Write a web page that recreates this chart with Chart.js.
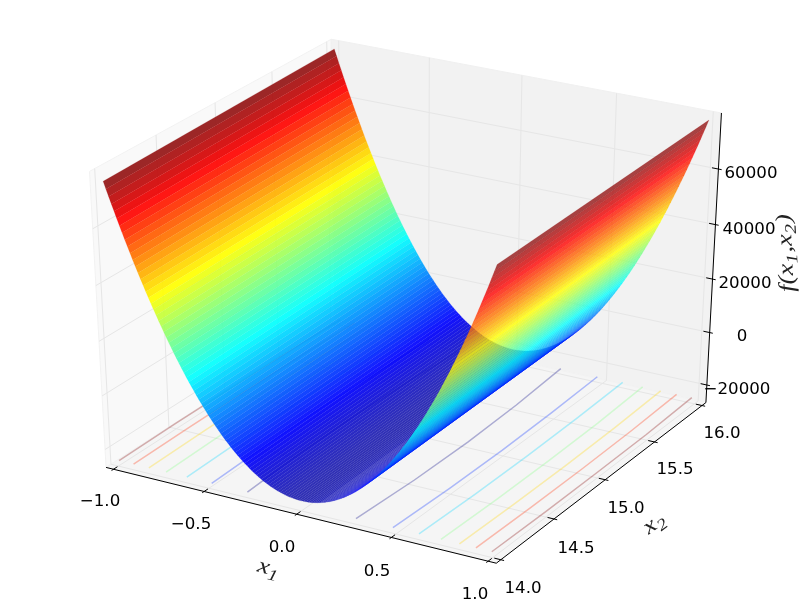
<!DOCTYPE html>
<html>
<head>
<meta charset="utf-8">
<title>f(x1,x2) surface</title>
<style>
  html, body { margin: 0; padding: 0; background: #fff; }
  canvas { display: block; }
</style>
<script src="https://cdn.jsdelivr.net/npm/chart.js@4/dist/chart.umd.min.js"></script>
</head>
<body>
<canvas id="chart" width="800" height="600"></canvas>
<script>
// values
const x1Grid = [-1,-0.9875,-0.975,-0.9625,-0.95,-0.9375,-0.925,-0.9125,-0.9,-0.8875,-0.875,-0.8625,-0.85,-0.8375,-0.825,-0.8125,-0.8,-0.7875,-0.775,-0.7625,-0.75,-0.7375,-0.725,-0.7125,-0.7,-0.6875,-0.675,-0.6625,-0.65,-0.6375,-0.625,-0.6125,-0.6,-0.5875,-0.575,-0.5625,-0.55,-0.5375,-0.525,-0.5125,-0.5,-0.4875,-0.475,-0.4625,-0.45,-0.4375,-0.425,-0.4125,-0.4,-0.3875,-0.375,-0.3625,-0.35,-0.3375,-0.325,-0.3125,-0.3,-0.2875,-0.275,-0.2625,-0.25,-0.2375,-0.225,-0.2125,-0.2,-0.1875,-0.175,-0.1625,-0.15,-0.1375,-0.125,-0.1125,-0.1,-0.0875,-0.075,-0.0625,-0.05,-0.0375,-0.025,-0.0125,0,0.0125,0.025,0.0375,0.05,0.0625,0.075,0.0875,0.1,0.1125,0.125,0.1375,0.15,0.1625,0.175,0.1875,0.2,0.2125,0.225,0.2375,0.25,0.2625,0.275,0.2875,0.3,0.3125,0.325,0.3375,0.35,0.3625,0.375,0.3875,0.4,0.4125,0.425,0.4375,0.45,0.4625,0.475,0.4875,0.5,0.5125,0.525,0.5375,0.55,0.5625,0.575,0.5875,0.6,0.6125,0.625,0.6375,0.65,0.6625,0.675,0.6875,0.7,0.7125,0.725,0.7375,0.75,0.7625,0.775,0.7875,0.8,0.8125,0.825,0.8375,0.85,0.8625,0.875,0.8875,0.9,0.9125,0.925,0.9375,0.95,0.9625,0.975,0.9875,1];
const zAtX2Low = [76000,73540,71110,68710,66350,64010,61710,59430,57190,54980,52800,50650,48530,46440,44380,42360,40360,38400,36460,34560,32690,30850,29040,27260,25510,23790,22110,20450,18830,17230,15670,14140,12640,11170,9730,8320,6950,5600,4290,3000,1750,530,-660,-1820,-2950,-4050,-5120,-6160,-7160,-8130,-9080,-9990,-10870,-11720,-12540,-13330,-14090,-14820,-15510,-16180,-16810,-17420,-17990,-18530,-19040,-19520,-19970,-20390,-20770,-21130,-21450,-21750,-22010,-22240,-22440,-22610,-22750,-22860,-22940,-22980,-23000,-22980,-22940,-22860,-22750,-22610,-22440,-22240,-22010,-21750,-21450,-21130,-20770,-20390,-19970,-19520,-19040,-18530,-17990,-17420,-16810,-16180,-15510,-14820,-14090,-13330,-12540,-11720,-10870,-9990,-9080,-8130,-7160,-6160,-5120,-4050,-2950,-1820,-660,530,1750,3000,4290,5600,6950,8320,9730,11170,12640,14140,15670,17230,18830,20450,22110,23790,25510,27260,29040,30850,32690,34560,36460,38400,40360,42360,44380,46440,48530,50650,52800,54980,57190,59430,61710,64010,66350,68710,71110,73540,76000];
const zAtX2High = [77700,75240,72810,70410,68050,65710,63410,61130,58890,56680,54500,52350,50230,48140,46080,44060,42060,40100,38160,36260,34390,32550,30740,28960,27210,25490,23810,22150,20530,18930,17370,15840,14340,12870,11430,10020,8650,7300,5990,4700,3450,2230,1040,-120,-1250,-2350,-3420,-4460,-5460,-6430,-7380,-8290,-9170,-10020,-10840,-11630,-12390,-13120,-13810,-14480,-15110,-15720,-16290,-16830,-17340,-17820,-18270,-18690,-19070,-19430,-19750,-20050,-20310,-20540,-20740,-20910,-21050,-21160,-21240,-21280,-21300,-21280,-21240,-21160,-21050,-20910,-20740,-20540,-20310,-20050,-19750,-19430,-19070,-18690,-18270,-17820,-17340,-16830,-16290,-15720,-15110,-14480,-13810,-13120,-12390,-11630,-10840,-10020,-9170,-8290,-7380,-6430,-5460,-4460,-3420,-2350,-1250,-120,1040,2230,3450,4700,5990,7300,8650,10020,11430,12870,14340,15840,17370,18930,20530,22150,23810,25490,27210,28960,30740,32550,34390,36260,38160,40100,42060,44060,46080,48140,50230,52350,54500,56680,58890,61130,63410,65710,68050,70410,72810,75240,77700];
const surfaceX2 = [14, 16];

// contours on the floor: |x1| of each level at each x2 stop
const contourX2 = [14, 14.5, 15, 15.5, 16];
const contourLevels = [-15000, 0, 15000, 30000, 45000, 60000, 75000];
const contourM15000 = [0.29, 0.308, 0.31, 0.296, 0.269];
const contour0 = [0.484, 0.495, 0.496, 0.487, 0.471];
const contour15000 = [0.62, 0.6285, 0.6293, 0.6224, 0.61];
const contour30000 = [0.734, 0.7412, 0.7419, 0.736, 0.719];
const contour45000 = [0.829, 0.8353, 0.836, 0.8308, 0.817];
const contour60000 = [0.914, 0.9198, 0.9203, 0.9156, 0.903];
const contour75000 = [0.995, 1, 1, 0.997, 0.985];
const contourLines = [contourM15000, contour0, contour15000, contour30000, contour45000, contour60000, contour75000];

const x1Ticks = [-1, -0.5, 0, 0.5, 1];
const x2Ticks = [14, 14.5, 15, 15.5, 16];
const zTicks = [-20000, 0, 20000, 40000, 60000];
const x1TickLabels = ["\u22121.0", "\u22120.5", "0.0", "0.5", "1.0"];
const x2TickLabels = ["14.0", "14.5", "15.0", "15.5", "16.0"];
const zTickLabels = ["\u221220000", "0", "20000", "40000", "60000"];

const x1Lim = [-1, 1];
const x2Lim = [14, 16];
const zLim = [-24640, 77660];
const colorLim = [-26000, 76850];

// same camera as mplot3d elev=30 azim=-60 dist=10
const U = [0.8660254, 0.5, 0];
const V = [-0.25, 0.4330127, 0.8660254];
const N = [0.4330127, -0.75, 0.5];
const dot = (a, b) => a[0] * b[0] + a[1] * b[1] + a[2] * b[2];
const PAD = 1 / 48;

function projectUnit(u, v, w) {
  const d = [u - 0.5, v - 0.5, w - 0.5];
  const den = 10 - dot(N, d);
  return {
    x: (dot(U, d) / den + 0.095) / 0.185 * 800,
    y: (0.09 - dot(V, d) / den) / 0.185 * 600
  };
}
const ux = (x) => (x - x1Lim[0]) / (x1Lim[1] - x1Lim[0]);
const uy = (y) => (y - x2Lim[0]) / (x2Lim[1] - x2Lim[0]);
const uz = (z) => (z - zLim[0]) / (zLim[1] - zLim[0]);
const project = (x, y, z) => projectUnit(ux(x), uy(y), uz(z));

function jet(t) {
  const c = (v) => Math.round(255 * Math.max(0, Math.min(1, v)));
  return [c(1.5 - Math.abs(4 * t - 3)), c(1.5 - Math.abs(4 * t - 2)), c(1.5 - Math.abs(4 * t - 1))];
}
const rgba = (c, a) => `rgba(${c[0]},${c[1]},${c[2]},${a})`;

// the dark ends of the map look a bit washed out in the reference
function surfaceColor(t) {
  const m = t < 0.12 ? 0.2 * (1 - t / 0.12) : t > 0.9 ? 0.1 * (t - 0.9) / 0.1 : 0;
  return jet(t).map((v) => Math.round(v + (235 - v) * m));
}

function polyLine(points, color, width) {
  return { data: points, showLine: true, fill: false, pointRadius: 0, borderColor: color, borderWidth: width, tension: 0 };
}
function polygon(points, fillColor, edgeColor, edgeWidth) {
  const closed = points.concat([points[0]]);
  return { data: closed, showLine: true, fill: "shape", pointRadius: 0, backgroundColor: fillColor, borderColor: edgeColor, borderWidth: edgeWidth, tension: 0 };
}

const lo = -PAD, hi = 1 + PAD;
const painted = [];

// panes
painted.push(polygon([projectUnit(lo, lo, lo), projectUnit(lo, hi, lo), projectUnit(lo, hi, hi), projectUnit(lo, lo, hi)], "#f9f9f9", "#f2f2f2", 1));
painted.push(polygon([projectUnit(lo, hi, lo), projectUnit(hi, hi, lo), projectUnit(hi, hi, hi), projectUnit(lo, hi, hi)], "#f2f2f2", "#f0f0f0", 1));
painted.push(polygon([projectUnit(lo, lo, lo), projectUnit(hi, lo, lo), projectUnit(hi, hi, lo), projectUnit(lo, hi, lo)], "#f5f5f5", "#f2f2f2", 1));

// grid
const GRID = "#e6e6e6";
x1Ticks.forEach((t) => painted.push(polyLine([projectUnit(ux(t), lo, lo), projectUnit(ux(t), hi, lo), projectUnit(ux(t), hi, hi)], GRID, 1)));
x2Ticks.forEach((t) => painted.push(polyLine([projectUnit(hi, uy(t), lo), projectUnit(lo, uy(t), lo), projectUnit(lo, uy(t), hi)], GRID, 1)));
zTicks.forEach((t) => painted.push(polyLine([projectUnit(lo, lo, uz(t)), projectUnit(lo, hi, uz(t)), projectUnit(hi, hi, uz(t))], GRID, 1)));

// axis lines and ticks
painted.push(polyLine([projectUnit(lo, lo, lo), projectUnit(hi, lo, lo)], "#000", 1));
painted.push(polyLine([projectUnit(hi, lo, lo), projectUnit(hi, hi, lo)], "#000", 1));
painted.push(polyLine([projectUnit(hi, hi, lo), projectUnit(hi, hi, hi)], "#000", 1));
const OUT = 0.1 / 12, IN = 0.2 / 12;
x1Ticks.forEach((t) => painted.push(polyLine([projectUnit(ux(t), lo - OUT, lo), projectUnit(ux(t), lo + IN, lo)], "#000", 1)));
x2Ticks.forEach((t) => painted.push(polyLine([projectUnit(hi + OUT, uy(t), lo), projectUnit(hi - IN, uy(t), lo)], "#000", 1)));
zTicks.forEach((t) => painted.push(polyLine([projectUnit(hi + OUT, hi, uz(t)), projectUnit(hi - IN, hi, uz(t))], "#000", 1)));

// contours, both sides of the trough
contourLevels.forEach((level, i) => {
  const color = rgba(jet((level - contourLevels[0]) / (contourLevels[contourLevels.length - 1] - contourLevels[0])), 0.3);
  [-1, 1].forEach((side) => {
    const pts = contourLines[i].map((x, j) => project(side * x, contourX2[j], zLim[0]));
    painted.push(polyLine(pts, color, 1.5));
  });
});

// surface, far to near
for (let i = 0; i < x1Grid.length - 1; i++) {
  const a = zAtX2Low[i], b = zAtX2Low[i + 1], c = zAtX2High[i + 1], d = zAtX2High[i];
  const col = surfaceColor(((a + b + c + d) / 4 - colorLim[0]) / (colorLim[1] - colorLim[0]));
  const alpha = x1Grid[i] < 0.1 ? 0.92 : 0.8;
  painted.push(polygon([
    project(x1Grid[i], surfaceX2[0], a),
    project(x1Grid[i + 1], surfaceX2[0], b),
    project(x1Grid[i + 1], surfaceX2[1], c),
    project(x1Grid[i], surfaceX2[1], d)
  ], rgba(col, alpha), rgba(col, 0.3), 0.5));
}

// chart.js paints the last dataset first
const datasets = painted.reverse();

const TICK_FONT = '16.67px "DejaVu Sans"';
const MATH_FONT = 'italic 22px "Liberation Serif"';
const MATH_SUB = 'italic 16px "Liberation Serif"';
const x1LabelSpots = [[100, 502], [191, 525], [282, 548], [377, 572], [475, 595]];
const x2LabelSpots = [[523, 589], [576, 549], [626, 509], [675, 470], [722, 434]];
const zLabelSpots = [[737, 390], [742, 337], [745, 284], [749, 230], [751, 174]];

function drawMath(ctx, cx, cy, angle, parts) {
  ctx.save();
  ctx.translate(cx, cy);
  ctx.rotate(angle);
  ctx.scale(1.22, 1);
  ctx.textAlign = "left";
  ctx.textBaseline = "alphabetic";
  let total = 0;
  parts.forEach((p) => { ctx.font = p.sub ? MATH_SUB : MATH_FONT; total += ctx.measureText(p.text).width + (p.gap || 0); });
  let pos = -total / 2;
  parts.forEach((p) => {
    ctx.font = p.sub ? MATH_SUB : MATH_FONT;
    ctx.fillText(p.text, pos, p.sub ? 9 : 4);
    pos += ctx.measureText(p.text).width + (p.gap || 0);
  });
  ctx.restore();
}

const axisText = {
  id: "axisText",
  afterDatasetsDraw(chart) {
    const ctx = chart.ctx;
    ctx.save();
    ctx.fillStyle = "#000";
    ctx.font = TICK_FONT;
    ctx.textAlign = "center";
    ctx.textBaseline = "middle";
    x1TickLabels.forEach((s, i) => ctx.fillText(s, x1LabelSpots[i][0], x1LabelSpots[i][1]));
    x2TickLabels.forEach((s, i) => ctx.fillText(s, x2LabelSpots[i][0], x2LabelSpots[i][1]));
    zTickLabels.forEach((s, i) => ctx.fillText(s, zLabelSpots[i][0], zLabelSpots[i][1]));
    ctx.fillStyle = "#222";
    drawMath(ctx, 268, 570, 0.25, [{ text: "x" }, { text: "1", sub: true }]);
    drawMath(ctx, 655, 525, -0.64, [{ text: "x" }, { text: "2", sub: true }]);
    drawMath(ctx, 788, 253, -1.62, [
      { text: "f(x" }, { text: "1", sub: true, gap: 1 }, { text: ",x" }, { text: "2", sub: true, gap: 1 }, { text: ")" }
    ]);
    ctx.restore();
  }
};

new Chart(document.getElementById("chart"), {
  type: "scatter",
  data: { datasets },
  options: {
    responsive: false,
    animation: false,
    events: [],
    layout: { padding: 0 },
    plugins: { legend: { display: false }, tooltip: { enabled: false } },
    scales: {
      x: { type: "linear", min: 0, max: 800, display: false },
      y: { type: "linear", min: 0, max: 600, reverse: true, display: false }
    }
  },
  plugins: [axisText]
});
</script>
</body>
</html>
